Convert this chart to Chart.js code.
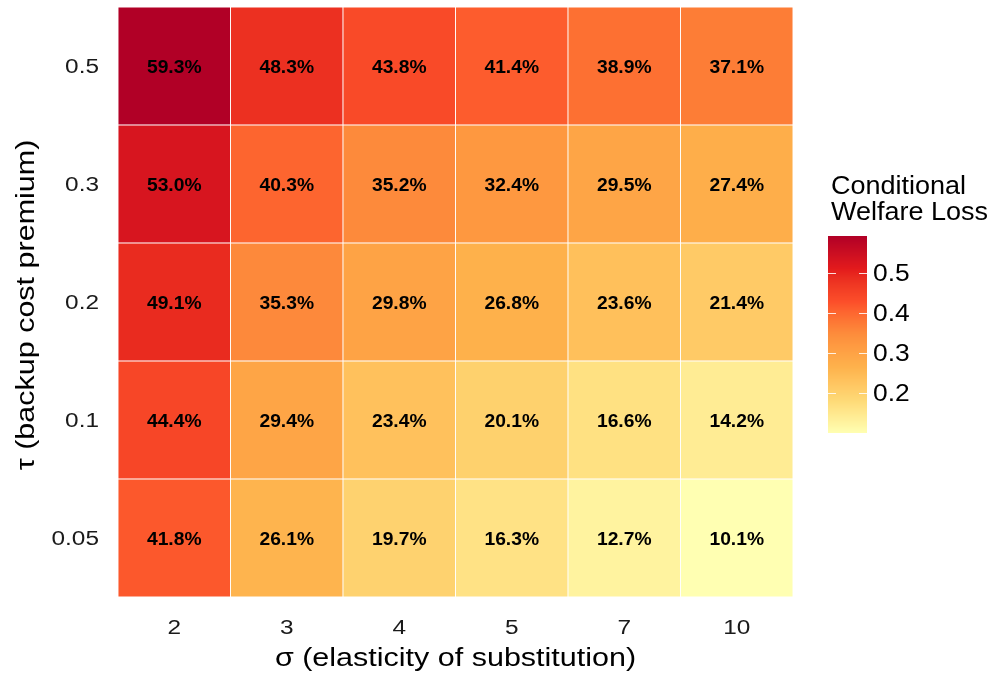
<!DOCTYPE html>
<html>
<head>
<meta charset="utf-8">
<script src="https://cdn.jsdelivr.net/npm/chart.js@4/dist/chart.umd.min.js"></script>
<style>
  html, body { margin: 0; padding: 0; background: #ffffff; }
  #wrap { width: 995px; height: 677px; }
</style>
</head>
<body>
<div id="wrap"><canvas id="heat" width="995" height="677"></canvas></div>
<script>
// Elasticity of substitution (columns) and backup cost premium (rows, bottom to top)
const sigmaLabels = ['2', '3', '4', '5', '7', '10'];
const tauLabels = ['0.05', '0.1', '0.2', '0.3', '0.5'];

// Conditional welfare loss, one array per tau row
const loss_tau005 = [0.418, 0.261, 0.197, 0.163, 0.127, 0.101];
const loss_tau01  = [0.444, 0.294, 0.234, 0.201, 0.166, 0.142];
const loss_tau02  = [0.491, 0.353, 0.298, 0.268, 0.236, 0.214];
const loss_tau03  = [0.530, 0.403, 0.352, 0.324, 0.295, 0.274];
const loss_tau05  = [0.593, 0.483, 0.438, 0.414, 0.389, 0.371];
const lossRows = [loss_tau005, loss_tau01, loss_tau02, loss_tau03, loss_tau05];

// Colour bar tick labels
const legendTicks = [0.2, 0.3, 0.4, 0.5];

const FONT = "'Liberation Sans', Arial, Helvetica, sans-serif";

// YlOrRd (7 classes), interpolated in CIE Lab
const palette = ['#FFFFB2', '#FED976', '#FEB24C', '#FD8D3C', '#FC4E2A', '#E31A1C', '#B10026'];

function hexToRgb(h) {
  return [parseInt(h.slice(1, 3), 16), parseInt(h.slice(3, 5), 16), parseInt(h.slice(5, 7), 16)];
}
function srgbToLin(c) { c /= 255; return c <= 0.04045 ? c / 12.92 : Math.pow((c + 0.055) / 1.055, 2.4); }
function linToSrgb(c) { const v = c <= 0.0031308 ? 12.92 * c : 1.055 * Math.pow(c, 1 / 2.4) - 0.055; return Math.max(0, Math.min(255, Math.round(v * 255))); }
const WX = 0.95047, WY = 1.0, WZ = 1.08883;
function fLab(t) { return t > 0.008856 ? Math.cbrt(t) : 7.787 * t + 16 / 116; }
function fInv(t) { return t > 0.206893 ? t * t * t : (t - 16 / 116) / 7.787; }
function rgbToLab(rgb) {
  const r = srgbToLin(rgb[0]), g = srgbToLin(rgb[1]), b = srgbToLin(rgb[2]);
  const x = (0.4124 * r + 0.3576 * g + 0.1805 * b) / WX;
  const y = (0.2126 * r + 0.7152 * g + 0.0722 * b) / WY;
  const z = (0.0193 * r + 0.1192 * g + 0.9505 * b) / WZ;
  const fx = fLab(x), fy = fLab(y), fz = fLab(z);
  return [116 * fy - 16, 500 * (fx - fy), 200 * (fy - fz)];
}
function labToRgb(lab) {
  const fy = (lab[0] + 16) / 116, fx = fy + lab[1] / 500, fz = fy - lab[2] / 200;
  const x = fInv(fx) * WX, y = fInv(fy) * WY, z = fInv(fz) * WZ;
  const r = 3.2406 * x - 1.5372 * y - 0.4986 * z;
  const g = -0.9689 * x + 1.8758 * y + 0.0415 * z;
  const b = 0.0557 * x - 0.2040 * y + 1.0570 * z;
  return [linToSrgb(r), linToSrgb(g), linToSrgb(b)];
}
const paletteLab = palette.map(h => rgbToLab(hexToRgb(h)));

const allValues = lossRows.flat();
const vMin = Math.min(...allValues);
const vMax = Math.max(...allValues);

function colourFor(v) {
  let t = (v - vMin) / (vMax - vMin);
  t = Math.max(0, Math.min(1, t)) * (paletteLab.length - 1);
  const i = Math.min(Math.floor(t), paletteLab.length - 2);
  const f = t - i;
  const a = paletteLab[i], b = paletteLab[i + 1];
  const rgb = labToRgb([a[0] + (b[0] - a[0]) * f, a[1] + (b[1] - a[1]) * f, a[2] + (b[2] - a[2]) * f]);
  return `rgb(${rgb[0]},${rgb[1]},${rgb[2]})`;
}

// Text helper: optional rotation and horizontal stretch
function drawText(ctx, text, x, y, opts) {
  ctx.save();
  ctx.translate(x, y);
  if (opts.rotate) ctx.rotate(opts.rotate);
  ctx.scale(opts.sx || 1, 1);
  ctx.font = opts.font;
  ctx.fillStyle = opts.color || '#000000';
  ctx.textAlign = opts.align || 'center';
  ctx.textBaseline = opts.baseline || 'middle';
  ctx.fillText(text, 0, 0);
  ctx.restore();
}

// One floating-bar dataset per tau row: each cell spans [row, row + 1]
const datasets = lossRows.map((row, r) => ({
  label: 'tau = ' + tauLabels[r],
  data: row.map(() => [r, r + 1]),
  values: row,
  backgroundColor: row.map(colourFor),
  borderColor: '#ffffff',
  borderWidth: 0.8,
  borderSkipped: false,
  barPercentage: 1,
  categoryPercentage: 1,
  grouped: false
}));

// Percentage labels in the middle of every cell
const cellLabels = {
  id: 'cellLabels',
  afterDatasetsDraw(chart) {
    const ctx = chart.ctx;
    chart.data.datasets.forEach((ds, di) => {
      chart.getDatasetMeta(di).data.forEach((bar, j) => {
        const c = bar.getCenterPoint();
        drawText(ctx, (ds.values[j] * 100).toFixed(1) + '%', c.x, c.y + 2,
                 { font: `bold 18px ${FONT}`, sx: 1.07 });
      });
    });
  }
};

// Axis tick labels and titles, placed from the chart's scales
const axisText = {
  id: 'axisText',
  afterDraw(chart) {
    const ctx = chart.ctx;
    const xs = chart.scales.x, ys = chart.scales.y;
    const area = chart.chartArea;
    const tickFont = `20px ${FONT}`;
    sigmaLabels.forEach((lab, i) => {
      drawText(ctx, lab, xs.getPixelForValue(i), 628, { font: tickFont, sx: 1.22, color: '#1a1a1a' });
    });
    tauLabels.forEach((lab, i) => {
      drawText(ctx, lab, 99, ys.getPixelForValue(i + 0.5) + 1, { font: tickFont, sx: 1.22, align: 'right', color: '#1a1a1a' });
    });
    drawText(ctx, 'σ (elasticity of substitution)', (area.left + area.right) / 2, 659,
             { font: `25px ${FONT}`, sx: 1.22 });
    drawText(ctx, 'τ (backup cost premium)', 27, (area.top + area.bottom) / 2 + 3,
             { font: `25px ${FONT}`, sx: 1.22, rotate: -Math.PI / 2 });
  }
};

// Continuous colour bar legend on the right
const colourBar = {
  id: 'colourBar',
  afterDraw(chart) {
    const ctx = chart.ctx;
    const x0 = 828, w = 39, top = 236, bottom = 433;
    const yOf = v => bottom - (v - vMin) / (vMax - vMin) * (bottom - top);
    ctx.save();
    for (let y = top; y < bottom; y += 1) {
      const v = vMin + (bottom - (y + 0.5)) / (bottom - top) * (vMax - vMin);
      ctx.fillStyle = colourFor(v);
      ctx.fillRect(x0, y, w, 1);
    }
    ctx.strokeStyle = 'rgba(255,255,255,0.85)';
    ctx.lineWidth = 1;
    legendTicks.forEach(v => {
      const y = Math.round(yOf(v)) + 0.5;
      ctx.beginPath();
      ctx.moveTo(x0, y); ctx.lineTo(x0 + 8, y);
      ctx.moveTo(x0 + w - 8, y); ctx.lineTo(x0 + w, y);
      ctx.stroke();
      drawText(ctx, v.toFixed(1), 873, y + 1, { font: `24px ${FONT}`, sx: 1.1, align: 'left' });
    });
    ctx.restore();
    drawText(ctx, 'Conditional', 831, 194, { font: `25px ${FONT}`, sx: 1.08, align: 'left', baseline: 'alphabetic' });
    drawText(ctx, 'Welfare Loss', 831, 220, { font: `25px ${FONT}`, sx: 1.08, align: 'left', baseline: 'alphabetic' });
  }
};

new Chart(document.getElementById('heat'), {
  type: 'bar',
  data: { labels: sigmaLabels, datasets },
  options: {
    responsive: false,
    animation: false,
    layout: { padding: { left: 0, right: 202, top: 7, bottom: 0 } },
    plugins: { legend: { display: false }, tooltip: { enabled: false } },
    scales: {
      x: {
        type: 'category',
        offset: true,
        grid: { display: false, drawTicks: false },
        border: { display: false },
        ticks: { display: false },
        afterFit(scale) { scale.height = 80; scale.paddingLeft = 0; scale.paddingRight = 0; }
      },
      y: {
        type: 'linear',
        min: 0,
        max: 5,
        grid: { display: false, drawTicks: false },
        border: { display: false },
        ticks: { display: false },
        afterFit(scale) { scale.width = 118; scale.paddingTop = 0; scale.paddingBottom = 0; }
      }
    }
  },
  plugins: [cellLabels, axisText, colourBar]
});
</script>
</body>
</html>
